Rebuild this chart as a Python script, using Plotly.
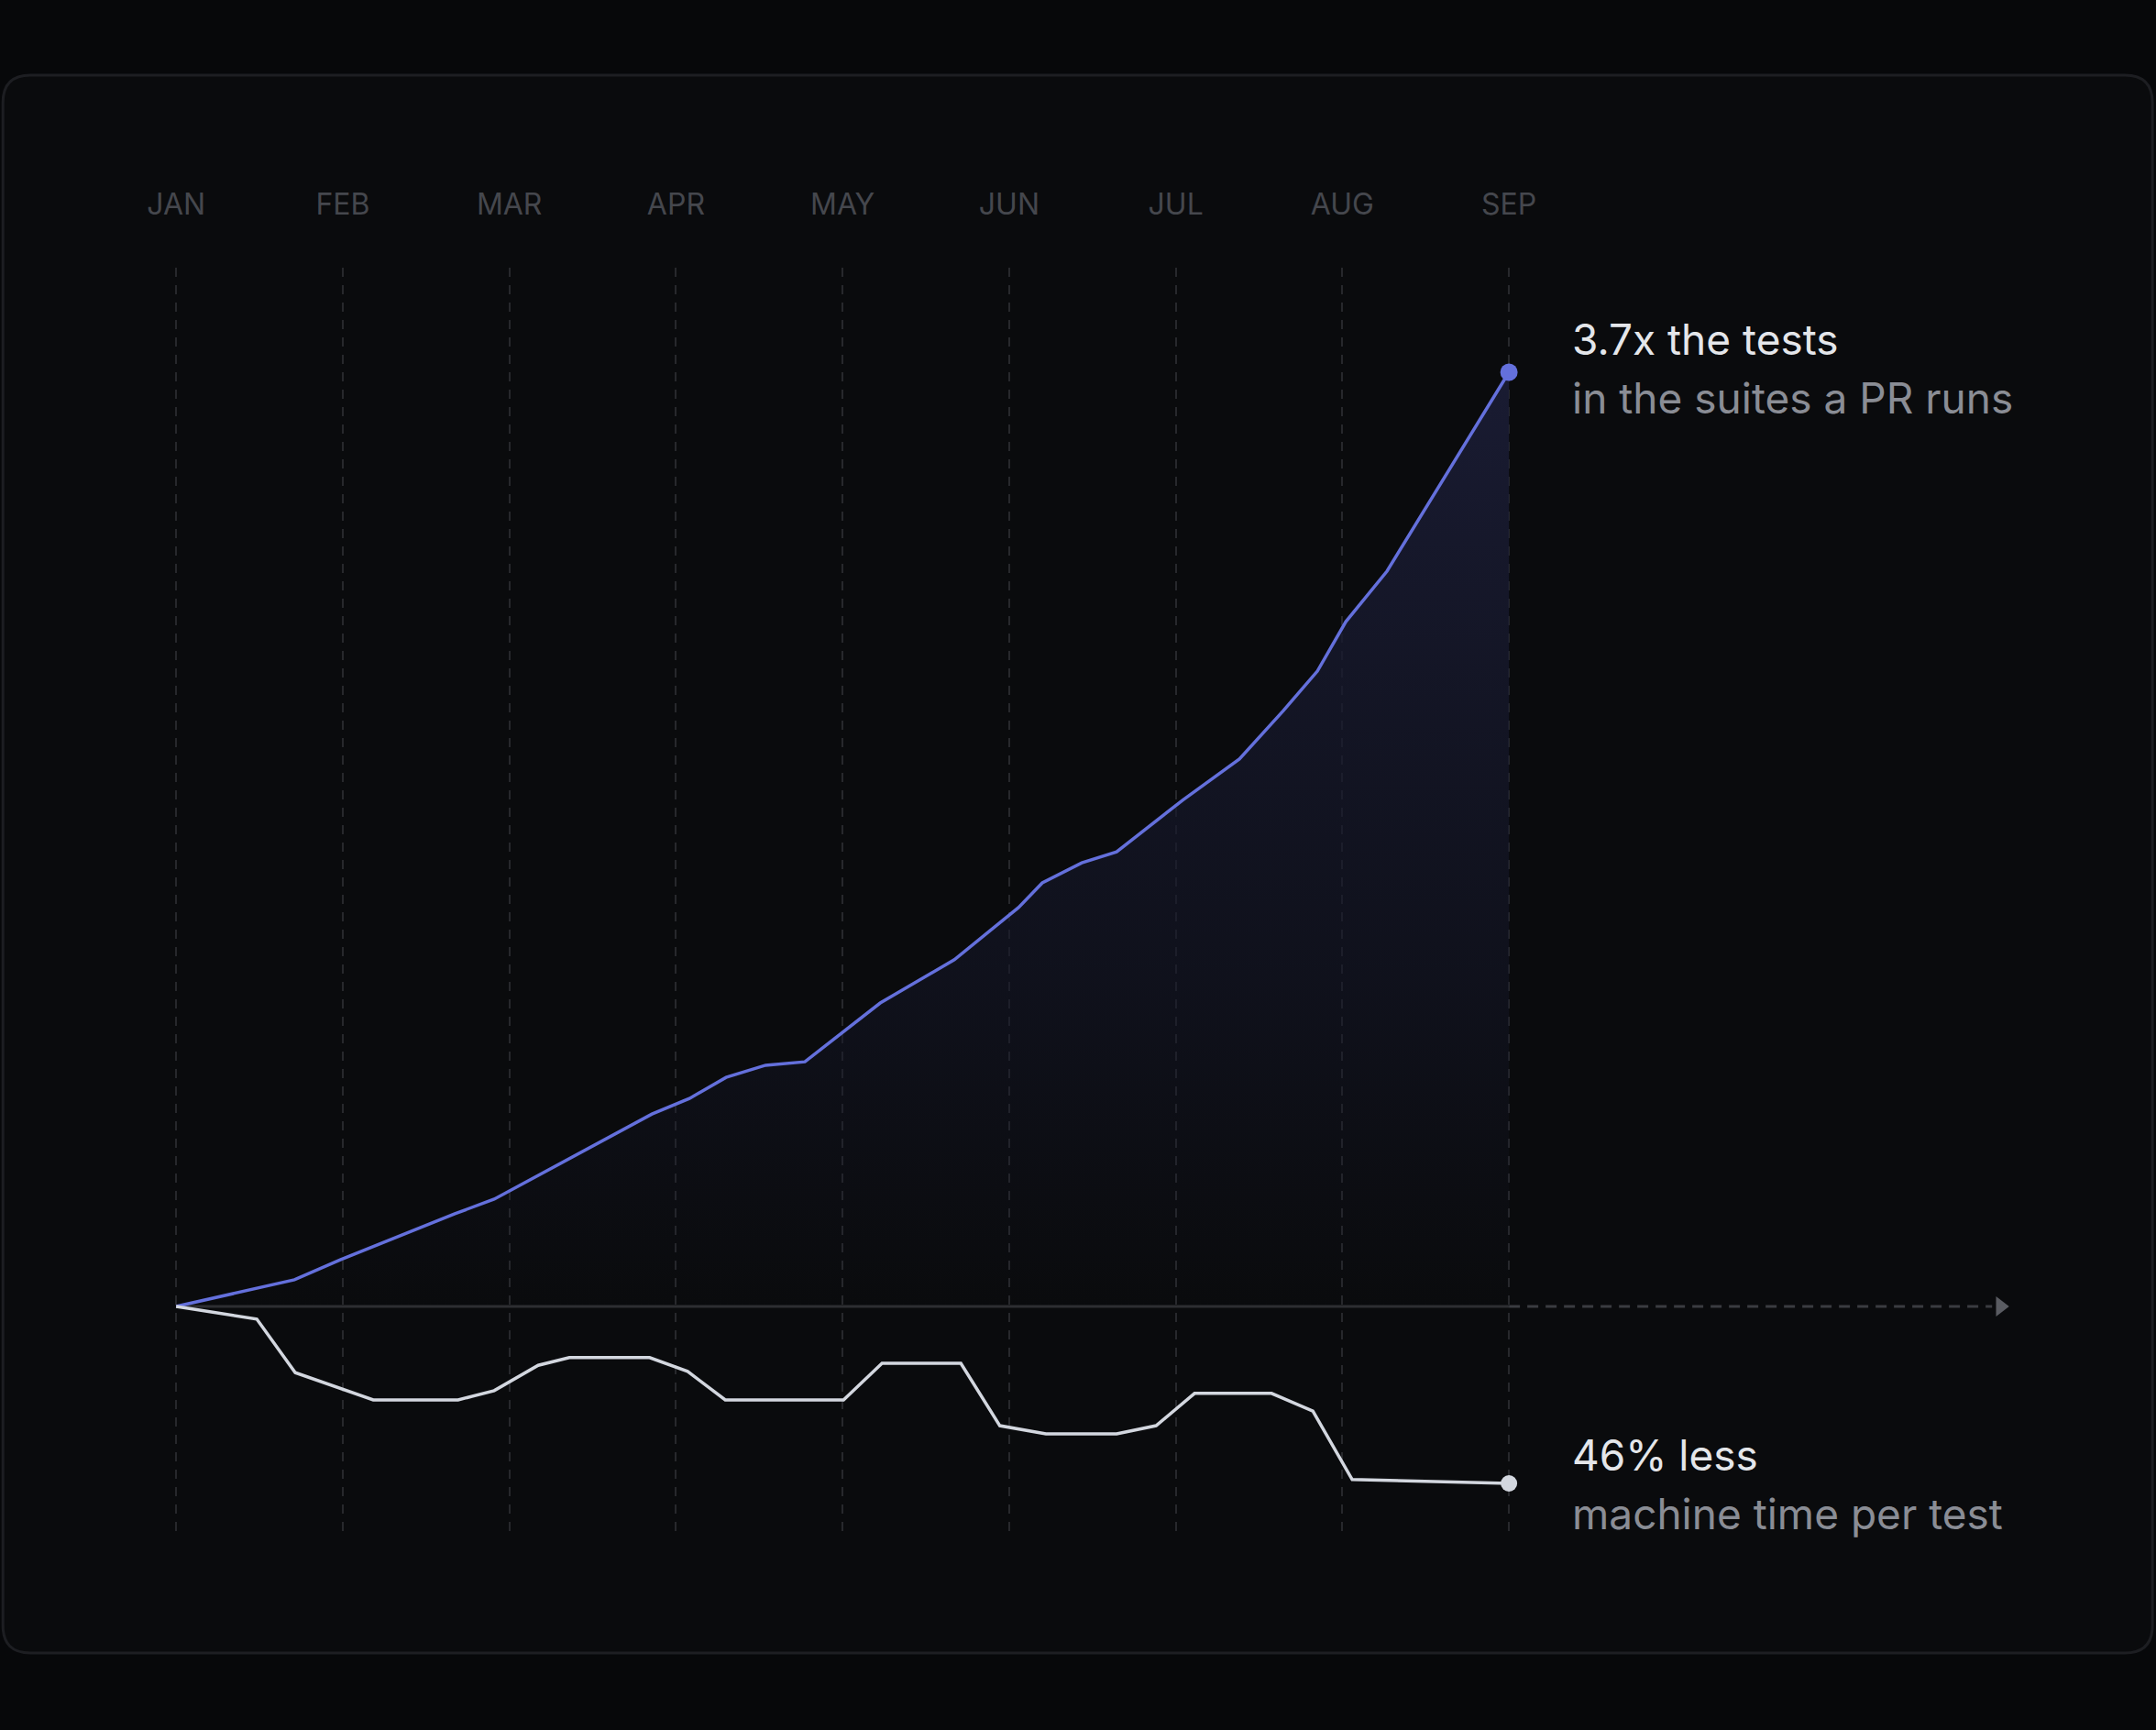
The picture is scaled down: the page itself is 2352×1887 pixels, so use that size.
import plotly.graph_objects as go

# ---------------- data ----------------
MONTHS = ["JAN", "FEB", "MAR", "APR", "MAY", "JUN", "JUL", "AUG", "SEP"]
MONTH_POS = list(range(len(MONTHS)))

# tests in the suites a PR runs (multiple of January level), x in months since JAN
TESTS_X = [0.0, 0.710, 0.985, 1.673, 1.909, 2.856, 3.081, 3.301, 3.538, 3.774,
           4.226, 4.671, 5.056, 5.199, 5.436, 5.645, 6.041, 6.382, 6.646, 6.850,
           7.021, 7.268, 8.0]
TESTS_Y = [1.000, 1.077, 1.135, 1.268, 1.310, 1.556, 1.601, 1.662, 1.697, 1.707,
           1.877, 2.002, 2.153, 2.224, 2.282, 2.314, 2.463, 2.582, 2.722, 2.836,
           2.979, 3.125, 3.70]

# machine time per test (relative to January level)
TIME_X = [0.0, 0.484, 0.715, 1.183, 1.692, 1.909, 2.173, 2.360, 2.842, 3.070,
          3.296, 4.006, 4.237, 4.710, 4.944, 5.221, 5.645, 5.882, 6.113, 6.575,
          6.823, 7.059, 8.0]
TIME_Y = [1.000, 0.967, 0.828, 0.757, 0.757, 0.781, 0.847, 0.867, 0.867, 0.831,
          0.757, 0.757, 0.852, 0.852, 0.690, 0.669, 0.669, 0.690, 0.774, 0.774,
          0.728, 0.550, 0.540]

BASELINE = 1.0
TESTS_HEAD = "3.7x the tests"
TESTS_SUB = "in the suites a PR runs"
TIME_HEAD = "46% less"
TIME_SUB = "machine time per test"

# ---------------- layout geometry (pixels) ----------------
W, H = 2352, 1887
PX_PER_MONTH = 181.75
X0_PX = 192          # JAN position
PLOT_TOP, PLOT_BOTTOM = 292, 1676
BASE_PX = 1425
X_MIN, X_MAX = -0.1, 11.02
ARROW_X = 10.95

L = X0_PX + X_MIN * PX_PER_MONTH
PLOT_W = (X_MAX - X_MIN) * PX_PER_MONTH
R = W - L - PLOT_W
T = PLOT_TOP
B = H - PLOT_BOTTOM
PLOT_H = PLOT_BOTTOM - PLOT_TOP

# y scales: baseline at BASE_PX; series ends at their measured pixel heights
TESTS_END_PX = 406
TIME_END_PX = 1618
u1 = (BASE_PX - TESTS_END_PX) / (TESTS_Y[-1] - BASELINE)
u2 = (TIME_END_PX - BASE_PX) / (BASELINE - TIME_Y[-1])
Y1_RANGE = [BASELINE - (PLOT_BOTTOM - BASE_PX) / u1, BASELINE + (BASE_PX - PLOT_TOP) / u1]
Y2_RANGE = [BASELINE - (PLOT_BOTTOM - BASE_PX) / u2, BASELINE + (BASE_PX - PLOT_TOP) / u2]

# ---------------- colours ----------------
PAGE_BG = "#07080a"
CARD_BG = "#0a0b0d"
CARD_BORDER = "#1d1e22"
GRID = "#27282c"
AXIS_SOLID = "#2d2e32"
AXIS_DASH = "#3a3c41"
ARROW = "#5a5c62"
BLUE = "#6470dc"
WHITE = "#d3d7df"
TEXT_HEAD = "#e4e6ea"
TEXT_SUB = "#8a8d95"
MONTH_TXT = "#45474d"
FONT = "Inter"

fig = go.Figure()

# baseline (solid across the observed months)
fig.add_trace(go.Scatter(
    x=[MONTH_POS[0], MONTH_POS[-1]], y=[BASELINE, BASELINE],
    mode="lines", line=dict(color=AXIS_SOLID, width=3),
    hoverinfo="skip", showlegend=False))

# tests area + line
fig.add_trace(go.Scatter(
    x=TESTS_X, y=TESTS_Y, mode="lines",
    line=dict(color=BLUE, width=3.5),
    fill="tonexty",
    fillgradient=dict(type="vertical",
                      colorscale=[[0, "rgba(20,22,40,0.0)"],
                                  [0.35, "rgba(20,22,40,0.55)"],
                                  [1, "rgba(26,28,52,0.95)"]],
                      start=BASELINE, stop=TESTS_Y[-1]),
    hoverinfo="skip", showlegend=False))

# future dashed extension + arrow head
fig.add_trace(go.Scatter(
    x=[MONTH_POS[-1], ARROW_X - 0.05], y=[BASELINE, BASELINE],
    mode="lines", line=dict(color=AXIS_DASH, width=3, dash="12px,8px"),
    hoverinfo="skip", showlegend=False))
fig.add_trace(go.Scatter(
    x=[ARROW_X], y=[BASELINE], mode="markers",
    marker=dict(symbol="triangle-right", size=19, color=ARROW),
    hoverinfo="skip", showlegend=False, cliponaxis=False))

# end marker tests
fig.add_trace(go.Scatter(
    x=[TESTS_X[-1]], y=[TESTS_Y[-1]], mode="markers",
    marker=dict(size=19, color=BLUE),
    hoverinfo="skip", showlegend=False, cliponaxis=False))

# machine time line
fig.add_trace(go.Scatter(
    x=TIME_X, y=TIME_Y, mode="lines", yaxis="y2",
    line=dict(color=WHITE, width=3.5),
    hoverinfo="skip", showlegend=False))
fig.add_trace(go.Scatter(
    x=[TIME_X[-1]], y=[TIME_Y[-1]], mode="markers", yaxis="y2",
    marker=dict(size=18, color=WHITE),
    hoverinfo="skip", showlegend=False, cliponaxis=False))

# ---------------- card background ----------------
def px2paper_x(px):
    return (px - L) / PLOT_W


def px2paper_y(py):
    return (PLOT_BOTTOM - py) / PLOT_H


cx0, cx1, cy0, cy1, rad = 3, 2348, 82, 1803, 30
rx, ry = rad / PLOT_W, rad / PLOT_H
x0p, x1p = px2paper_x(cx0), px2paper_x(cx1)
ytp, ybp = px2paper_y(cy0), px2paper_y(cy1)
card_path = (
    f"M {x0p + rx} {ytp} L {x1p - rx} {ytp} Q {x1p} {ytp} {x1p} {ytp - ry} "
    f"L {x1p} {ybp + ry} Q {x1p} {ybp} {x1p - rx} {ybp} "
    f"L {x0p + rx} {ybp} Q {x0p} {ybp} {x0p} {ybp + ry} "
    f"L {x0p} {ytp - ry} Q {x0p} {ytp} {x0p + rx} {ytp} Z"
)

annotations = []
TXT_SIZE = 46
for head, sub, yv, yref, up, down in [(TESTS_HEAD, TESTS_SUB, TESTS_Y[-1], "y", 36, -28),
                                      (TIME_HEAD, TIME_SUB, TIME_Y[-1], "y2", 31, -33)]:
    annotations.append(dict(
        x=MONTH_POS[-1], y=yv, xref="x", yref=yref, text=head,
        showarrow=False, xanchor="left", yanchor="middle",
        xshift=67, yshift=up,
        font=dict(family=FONT, size=TXT_SIZE, color=TEXT_HEAD)))
    annotations.append(dict(
        x=MONTH_POS[-1], y=yv, xref="x", yref=yref, text=sub,
        showarrow=False, xanchor="left", yanchor="middle",
        xshift=67, yshift=down,
        font=dict(family=FONT, size=TXT_SIZE, color=TEXT_SUB)))

fig.update_layout(
    width=W, height=H,
    margin=dict(l=L, r=R, t=T, b=B, pad=0),
    paper_bgcolor=PAGE_BG,
    plot_bgcolor="rgba(0,0,0,0)",
    hovermode=False,
    showlegend=False,
    font=dict(family=FONT),
    xaxis=dict(
        range=[X_MIN, X_MAX], side="top",
        tickmode="array", tickvals=MONTH_POS, ticktext=MONTHS,
        tickfont=dict(family=FONT, size=32, color=MONTH_TXT),
        ticks="", ticklabelstandoff=51,
        showgrid=True, gridcolor=GRID, gridwidth=2, griddash="10px,9px",
        zeroline=False, showline=False, fixedrange=True),
    yaxis=dict(range=Y1_RANGE, visible=False, showgrid=False, zeroline=False,
               fixedrange=True),
    yaxis2=dict(range=Y2_RANGE, overlaying="y", visible=False, showgrid=False,
                zeroline=False, fixedrange=True),
    shapes=[dict(type="path", path=card_path, xref="paper", yref="paper",
                 fillcolor=CARD_BG, line=dict(color=CARD_BORDER, width=3),
                 layer="below")],
    annotations=annotations,
)

fig.write_html(
    "out.html",
    config={"displayModeBar": False, "staticPlot": True},
    post_script="document.body.style.margin='0';document.body.style.background='#07080a';document.body.style.overflow='hidden';",
)
